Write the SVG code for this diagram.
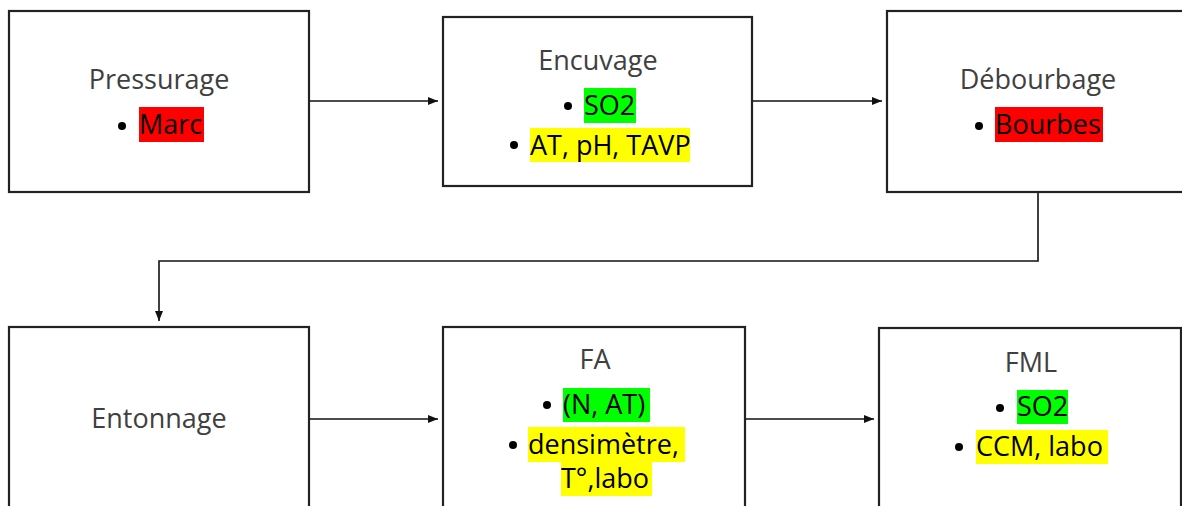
<svg xmlns="http://www.w3.org/2000/svg" width="1182" height="506" viewBox="0 0 1182 506">
<style>
.box{fill:#fff;stroke:#222;stroke-width:2.2}
.title{font-family:"Open Sans",sans-serif;font-size:27px;fill:#404040;text-anchor:middle}
.item{font-family:"Open Sans",sans-serif;font-size:27px;fill:#000}
.red{fill:#ff0000}.green{fill:#00ff00}.yellow{fill:#ffff00}
.conn{fill:none;stroke:#111;stroke-width:1.6}
</style>
<defs>
<marker id="arr" markerUnits="userSpaceOnUse" markerWidth="12" markerHeight="10" refX="10" refY="4" orient="auto">
<path d="M0,0 L10,4 L0,8 Z" fill="#111"/>
</marker>
</defs>
<rect width="1182" height="506" fill="#fff"/>
<g id="connectors">
<line class="conn" x1="309" y1="101" x2="438" y2="101" marker-end="url(#arr)"/>
<line class="conn" x1="752" y1="101" x2="882" y2="101" marker-end="url(#arr)"/>
<polyline class="conn" points="1038,192 1038,261 159,261 159,321" marker-end="url(#arr)"/>
<line class="conn" x1="309" y1="419" x2="438" y2="419" marker-end="url(#arr)"/>
<line class="conn" x1="745" y1="419" x2="874" y2="419" marker-end="url(#arr)"/>
</g>
<g id="pressurage">
<rect class="box" x="9" y="11" width="300" height="181"/>
<text class="title" x="159" y="89">Pressurage</text>
<circle cx="122" cy="126" r="4"/>
<rect class="red" x="139" y="107" width="65" height="35"/>
<text class="item" x="139" y="134">Marc</text>
</g>
<g id="encuvage">
<rect class="box" x="443" y="17" width="309" height="169"/>
<text class="title" x="598" y="70">Encuvage</text>
<circle cx="568" cy="106" r="4"/>
<rect class="green" x="584" y="88" width="52" height="35"/>
<text class="item" x="584" y="115">SO2</text>
<circle cx="514" cy="145" r="4"/>
<rect class="yellow" x="530" y="128" width="160" height="34"/>
<text class="item" x="530" y="155">AT, pH, TAVP</text>
</g>
<g id="debourbage">
<rect class="box" x="887" y="11" width="302" height="181"/>
<text class="title" x="1038" y="89">Débourbage</text>
<circle cx="979" cy="126" r="4"/>
<rect class="red" x="995" y="107" width="108" height="35"/>
<text class="item" x="995" y="134">Bourbes</text>
</g>
<g id="entonnage">
<rect class="box" x="9" y="327" width="300" height="190"/>
<text class="title" x="159" y="428">Entonnage</text>
</g>
<g id="fa">
<rect class="box" x="443" y="327" width="302" height="190"/>
<text class="title" x="595" y="369">FA</text>
<circle cx="547" cy="405" r="4"/>
<rect class="green" x="563" y="388" width="87" height="34"/>
<text class="item" x="563" y="414">(N, AT)</text>
<circle cx="513" cy="445" r="4"/>
<rect class="yellow" x="528" y="427" width="157" height="35"/>
<text class="item" x="528" y="454">densimètre,</text>
<rect class="yellow" x="561" y="462" width="91" height="34"/>
<text class="item" x="561" y="488">T°,labo</text>
</g>
<g id="fml">
<rect class="box" x="879" y="328" width="302" height="190"/>
<text class="title" x="1031" y="372">FML</text>
<circle cx="1000" cy="408" r="4"/>
<rect class="green" x="1017" y="390" width="51" height="34"/>
<text class="item" x="1017" y="416">SO2</text>
<circle cx="959" cy="447" r="4"/>
<rect class="yellow" x="976" y="430" width="132" height="34"/>
<text class="item" x="976" y="456">CCM, labo</text>
</g>
</svg>
